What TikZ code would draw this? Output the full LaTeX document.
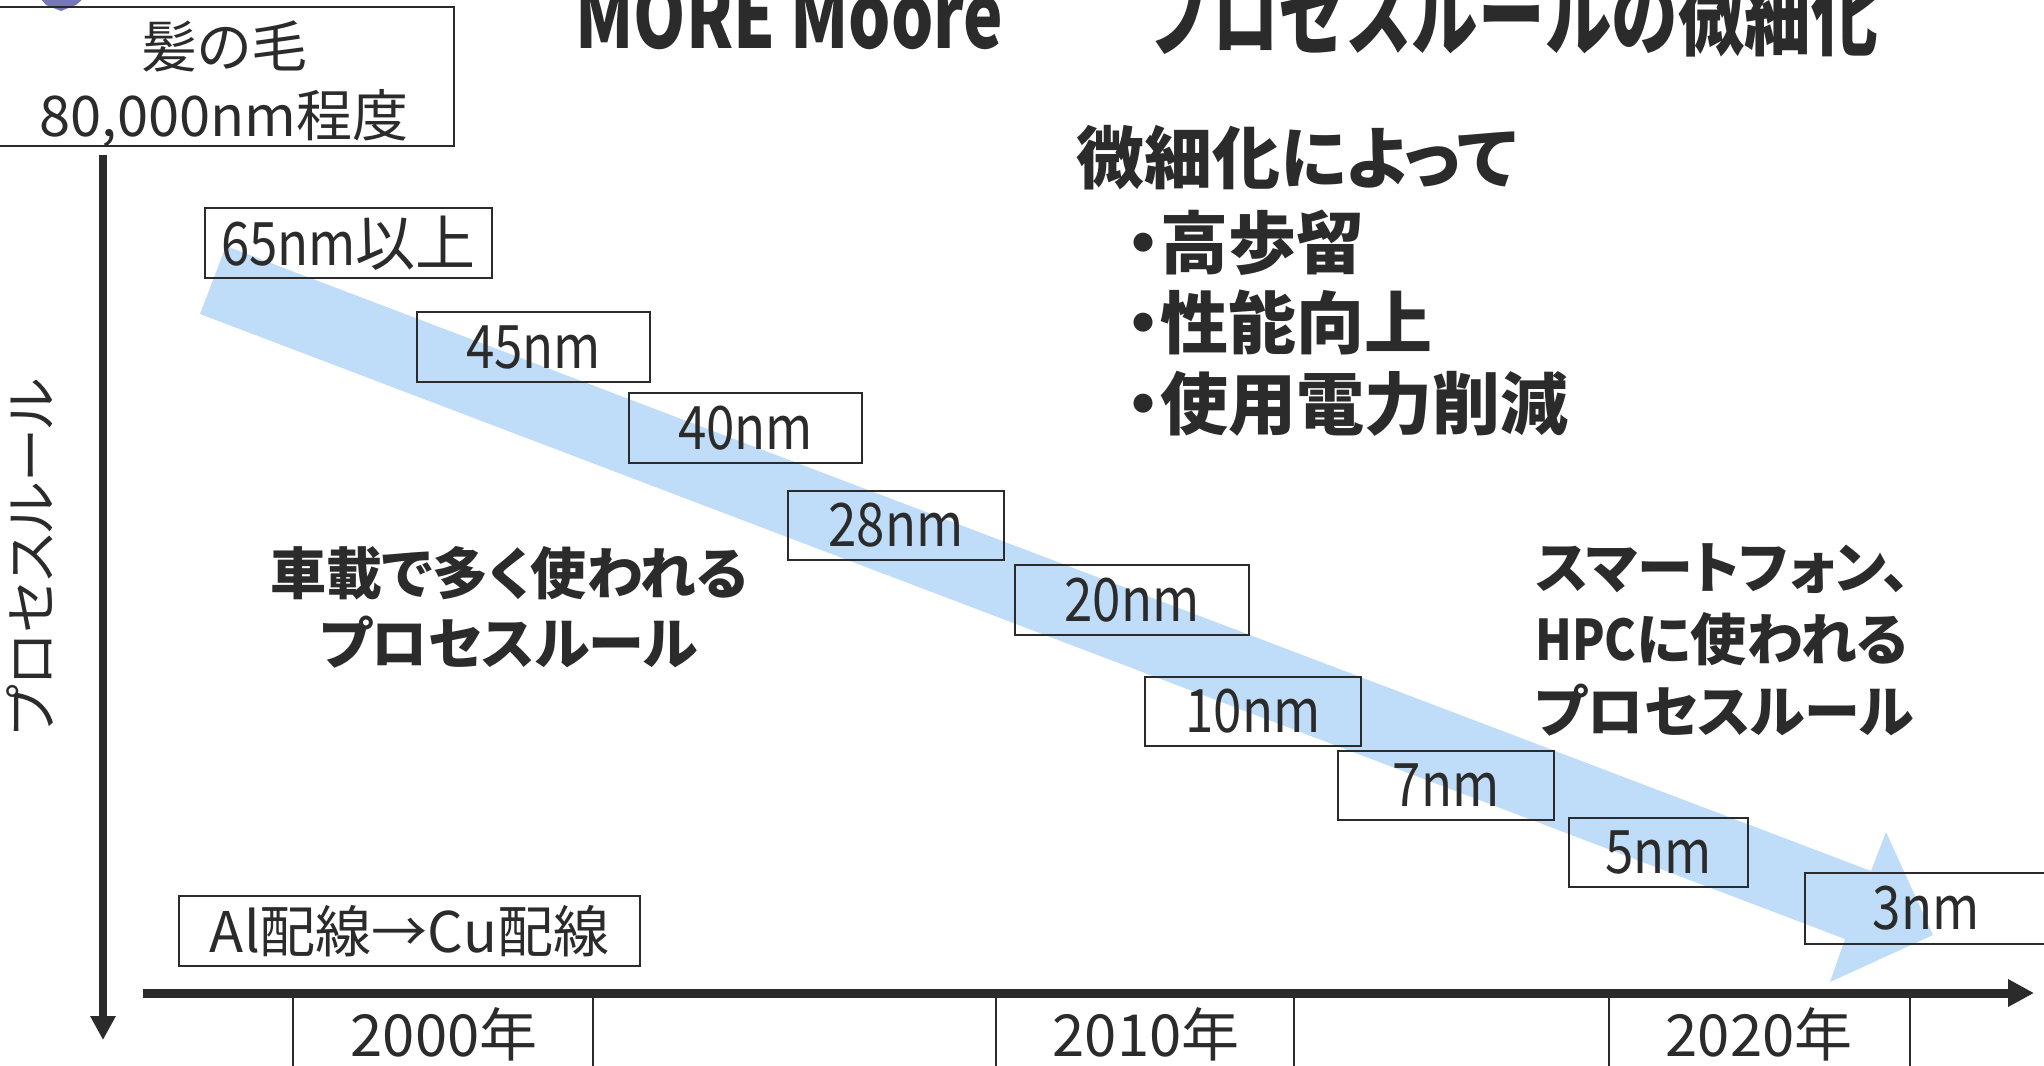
\documentclass[tikz,border=0pt]{standalone}
\usepackage{fontspec}
\setmainfont{Noto Sans CJK JP}[RawFeature=+palt]
\newfontfamily\jpnar{Noto Sans CJK JP}[FakeStretch=0.85]
\newfontfamily\jptitle{Noto Sans CJK JP}[FakeStretch=0.74]
\usetikzlibrary{arrows.meta}
\definecolor{ink}{HTML}{2B2B2B}
\definecolor{bandblue}{HTML}{BFDDF8}
\definecolor{lav}{HTML}{7478BA}
\tikzset{
  boxnode/.style={draw=ink, line width=1.2pt, inner sep=0pt, text=ink,
    font=\fontsize{30}{30}\selectfont},
  plain/.style={inner sep=0pt, text=ink},
  axisline/.style={draw=ink, line width=4.5pt, -{Triangle[length=13pt,width=13pt]}},
  tickline/.style={draw=ink, line width=0.8pt}
}
\begin{document}
\begin{tikzpicture}[x=0.5pt,y=-0.5pt]
\clip (0,0) rectangle (2044,1065);
\fill[white] (0,0) rectangle (2044,1065);

% big blue trend arrow
\fill[bandblue] (226,246) -- (1871,871) -- (1886,832) -- (1933,935) -- (1830,982) -- (1845,939) -- (200,314) -- cycle;

% purple fragment at top-left
\fill[lav] (40,-2) -- (84,-2) -- (76,5) -- (61,11) -- (46,5) -- cycle;

% hair box
\node[boxnode, minimum width=229pt, minimum height=69.5pt] (hair) at (225,76.5) {};
\node[plain, align=center, font=\fontsize{28}{34.5}\selectfont] (hairtxt) at (224,84) {髪の毛\\80,000nm程度};

% title
\node[plain, anchor=base west, font=\jptitle\bfseries\fontsize{45}{45}\selectfont] (title1) at (575,49) {MORE Moore};
\node[plain, anchor=base west, font=\jptitle\bfseries\fontsize{45}{45}\selectfont] (title2) at (1145,49) {プロセスルールの微細化};

% vertical axis
\coordinate (vtop) at (103,155);
\coordinate (vbot) at (103,1040);
\draw[draw=ink, line width=4pt, -{Triangle[length=12pt,width=12pt]}] (vtop) -- (vbot);
\node[plain, rotate=90, font=\fontsize{27}{27}\selectfont] (vlabel) at (30,557) {プロセスルール};

% horizontal axis
\coordinate (hstart) at (143,993);
\coordinate (hend) at (2034,993);
\draw[axisline] (hstart) -- (hend);
\foreach \tx in {293,593,996,1294,1609,1910}{
  \draw[tickline] (\tx,993) -- (\tx,1070);
}
\node[plain, font=\fontsize{29}{29}\selectfont] (y2000) at (444,1034) {2000年};
\node[plain, font=\fontsize{29}{29}\selectfont] (y2010) at (1146,1034) {2010年};
\node[plain, font=\fontsize{29}{29}\selectfont] (y2020) at (1759,1034) {2020年};

% Al -> Cu box
\node[boxnode, minimum width=230.5pt, minimum height=35pt, font=\fontsize{28}{28}\selectfont] (alcu) at (409.5,931) {Al配線→Cu配線};

% process rule boxes
\node[boxnode, minimum width=143.5pt, minimum height=35pt] (n65) at (348.5,243) {{\jpnar 65nm}以上};
\node[boxnode, minimum width=116.5pt, minimum height=35pt] (n45) at (533.5,347) {\jpnar 45nm};
\node[boxnode, minimum width=116.5pt, minimum height=35pt] (n40) at (745.5,428) {\jpnar 40nm};
\node[boxnode, minimum width=108pt, minimum height=34.5pt] (n28) at (896,525.5) {\jpnar 28nm};
\node[boxnode, minimum width=117pt, minimum height=35pt] (n20) at (1132,600) {\jpnar 20nm};
\node[boxnode, minimum width=108pt, minimum height=34.5pt] (n10) at (1253,711.5) {\jpnar 10nm};
\node[boxnode, minimum width=108pt, minimum height=34.5pt] (n7) at (1446,785.5) {\jpnar 7nm};
\node[boxnode, minimum width=89.5pt, minimum height=34.5pt] (n5) at (1658.5,852.5) {\jpnar 5nm};
\node[boxnode, minimum width=121pt, minimum height=35.5pt] (n3) at (1926,908.5) {\jpnar 3nm};

% benefits list
\node[plain, anchor=west, font=\bfseries\fontsize{34}{34}\selectfont] (m0) at (1076,158) {微細化によって};
\node[plain, anchor=west, font=\bfseries\fontsize{34}{34}\selectfont] (m1) at (1126,243) {・高歩留};
\node[plain, anchor=west, font=\bfseries\fontsize{34}{34}\selectfont] (m2) at (1126,322) {・性能向上};
\node[plain, anchor=west, font=\bfseries\fontsize{34}{34}\selectfont] (m3) at (1126,404) {・使用電力削減};

% usage notes
\node[plain, align=center, font=\bfseries\fontsize{28}{35}\selectfont] (car) at (509,607) {車載で多く使われる\\プロセスルール};
\node[plain, anchor=west, align=left, font=\bfseries\fontsize{28}{36}\selectfont] (smart) at (1535,640) {スマートフォン、\\{\jpnar HPC}に使われる\\プロセスルール};
\end{tikzpicture}
\end{document}
